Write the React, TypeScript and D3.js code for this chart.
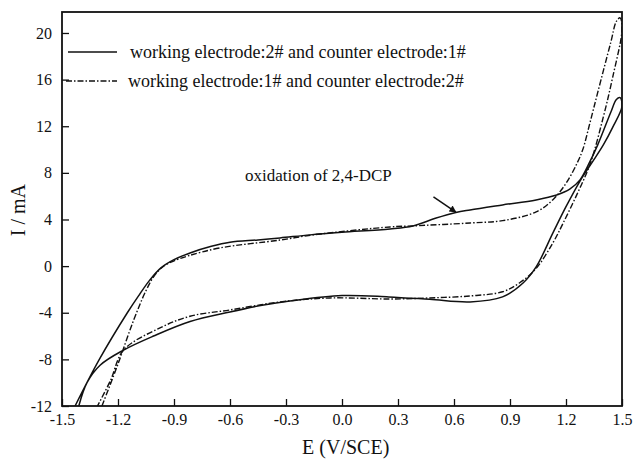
import * as d3 from "d3";
import { useEffect, useRef } from "react";

// E (V/SCE), I (mA); each loop = forward scan then reverse scan
const solidE = [
  -1.43, -1.3, -1.15, -1.09, -1.03, -0.97, -0.9, -0.814, -0.7, -0.6, -0.45, -0.332, -0.171, 0.0, 0.257, 0.38, 0.5, 0.61, 0.686, 0.86, 1.04, 1.15, 1.22, 1.275, 1.32, 1.37, 1.44, 1.47, 1.49,
  1.5, 1.45, 1.4, 1.34, 1.275, 1.2, 1.13, 1.04, 0.97, 0.86, 0.686, 0.47, 0.25, 0.0, -0.28, -0.42, -0.6, -0.814, -1.01, -1.17, -1.296, -1.366, -1.41,
];
const solidI = [
  -12, -8, -4, -2.55, -1.2, -0.15, 0.55, 1.13, 1.7, 2.05, 2.25, 2.42, 2.68, 2.9, 3.19, 3.45, 4.1, 4.6, 4.82, 5.25, 5.68, 6.1, 6.6, 7.4, 8.7, 10.4, 13.2, 14.3, 14.45,
  13.7, 11.9, 10.4, 8.9, 7.3, 5.1, 2.85, -0.07, -1.45, -2.64, -3.07, -2.85, -2.64, -2.52, -2.99, -3.33, -3.93, -4.75, -6.0, -7.2, -8.5, -10.0, -12,
];

const dashE = [
  -1.286, -1.2, -1.12, -1.05, -1.0, -0.95, -0.9, -0.82, -0.654, -0.33, -0.155, 0.257, 0.38, 0.686, 0.86, 1.04, 1.13, 1.2, 1.26, 1.29, 1.33, 1.37, 1.44, 1.47, 1.49,
  1.5, 1.45, 1.4, 1.33, 1.26, 1.185, 1.13, 1.04, 0.95, 0.86, 0.686, 0.47, 0.257, -0.064, -0.33, -0.6, -0.814, -0.975, -1.17, -1.24, -1.31,
];
const dashI = [
  -12, -8.4, -4.8, -2.1, -0.7, 0.05, 0.45, 0.9, 1.56, 2.24, 2.68, 3.36, 3.45, 3.7, 3.9, 4.65, 5.7, 7.1, 8.85, 10.0, 12.4, 14.9, 19.2, 21.0, 21.3,
  20.3, 16.2, 12.8, 8.8, 6.2, 3.7, 2.0, -0.2, -1.45, -2.2, -2.56, -2.73, -2.82, -2.73, -3.07, -3.76, -4.3, -5.3, -7.2, -9.8, -12,
];

const xTicks = [-1.5, -1.2, -0.9, -0.6, -0.3, 0.0, 0.3, 0.6, 0.9, 1.2, 1.5];
const yTicks = [-12, -8, -4, 0, 4, 8, 12, 16, 20];

const seriesNames = [
  "working electrode:2# and counter electrode:1#",
  "working electrode:1# and counter electrode:2#",
];

const W = 634;
const H = 459;
const FONT = "'Liberation Serif', 'Times New Roman', serif";

export default function App() {
  const ref = useRef<SVGSVGElement>(null);

  useEffect(() => {
    document.body.style.margin = "0";
    const svg = d3.select(ref.current);
    svg.selectAll("*").remove();

    const margin = { top: 12, right: 12, bottom: 53, left: 62 };
    const width = W - margin.left - margin.right;
    const height = H - margin.top - margin.bottom;

    const x = d3.scaleLinear().domain([-1.5, 1.5]).range([0, width]);
    const y = d3.scaleLinear().domain([-12, 21.8]).range([height, 0]);

    const g = svg
      .append("g")
      .attr("transform", `translate(${margin.left},${margin.top})`);

    const defs = svg.append("defs");
    defs
      .append("clipPath")
      .attr("id", "plot-clip")
      .append("rect")
      .attr("width", width)
      .attr("height", height);

    // axes with inward ticks, plain hyphen minus like the original
    const xAxis = g
      .append("g")
      .attr("transform", `translate(0,${height})`)
      .call(
        d3
          .axisBottom(x)
          .tickValues(xTicks)
          .tickSizeInner(-7)
          .tickSizeOuter(0)
          .tickPadding(8)
          .tickFormat((d) => (d as number).toFixed(1))
      );
    const yAxis = g.append("g").call(
      d3
        .axisLeft(y)
        .tickValues(yTicks)
        .tickSizeInner(-7)
        .tickSizeOuter(0)
        .tickPadding(10)
        .tickFormat((d) => String(d))
    );
    for (const a of [xAxis, yAxis]) {
      a.select(".domain").remove();
      a.selectAll("line").attr("stroke", "#111").attr("stroke-width", 1.3);
      a.selectAll("text")
        .attr("fill", "#111")
        .style("font-family", FONT)
        .style("font-size", "16px");
    }

    // frame
    g.append("rect")
      .attr("width", width)
      .attr("height", height)
      .attr("fill", "none")
      .attr("stroke", "#111")
      .attr("stroke-width", 1.8);

    const line = d3
      .line<[number, number]>()
      .x((d) => x(d[0]))
      .y((d) => y(d[1]))
      .curve(d3.curveCatmullRom.alpha(0.5));

    const plot = g.append("g").attr("clip-path", "url(#plot-clip)");

    plot
      .append("path")
      .datum(solidE.map((e, i) => [e, solidI[i]] as [number, number]))
      .attr("fill", "none")
      .attr("stroke", "#111")
      .attr("stroke-width", 1.5)
      .attr("d", line);

    plot
      .append("path")
      .datum(dashE.map((e, i) => [e, dashI[i]] as [number, number]))
      .attr("fill", "none")
      .attr("stroke", "#111")
      .attr("stroke-width", 1.4)
      .attr("stroke-dasharray", "6 2 1.5 2")
      .attr("d", line);

    // legend
    const legend = [
      { y: 40, x0: 6, x1: 55, dash: null, tx: 68 },
      { y: 69, x0: 4, x1: 55, dash: "6 2 1.5 2", tx: 66 },
    ];
    legend.forEach((l, i) => {
      g.append("line")
        .attr("x1", l.x0)
        .attr("x2", l.x1)
        .attr("y1", l.y)
        .attr("y2", l.y)
        .attr("stroke", "#111")
        .attr("stroke-width", 1.5)
        .attr("stroke-dasharray", l.dash);
      g.append("text")
        .attr("x", l.tx)
        .attr("y", l.y + 6)
        .attr("fill", "#111")
        .style("font-family", FONT)
        .style("font-size", "18px")
        .text(seriesNames[i]);
    });

    // annotation
    g.append("text")
      .attr("x", x(-0.52))
      .attr("y", 169)
      .attr("fill", "#111")
      .style("font-family", FONT)
      .style("font-size", "17px")
      .text("oxidation of 2,4-DCP");

    defs
      .append("marker")
      .attr("id", "arrow")
      .attr("viewBox", "0 0 10 10")
      .attr("refX", 9)
      .attr("refY", 5)
      .attr("markerWidth", 10)
      .attr("markerHeight", 7)
      .attr("markerUnits", "userSpaceOnUse")
      .attr("orient", "auto")
      .append("path")
      .attr("d", "M0,0L10,5L0,10z")
      .attr("fill", "#111");

    g.append("line")
      .attr("x1", x(0.49))
      .attr("y1", y(5.93))
      .attr("x2", x(0.61))
      .attr("y2", y(4.64))
      .attr("stroke", "#111")
      .attr("stroke-width", 1.5)
      .attr("marker-end", "url(#arrow)");

    // axis titles
    svg
      .append("text")
      .attr("x", margin.left + x(0.02))
      .attr("y", 454)
      .attr("text-anchor", "middle")
      .attr("fill", "#111")
      .style("font-family", FONT)
      .style("font-size", "20px")
      .text("E (V/SCE)");

    svg
      .append("text")
      .attr("transform", `translate(25,${margin.top + y(4.8)}) rotate(-90)`)
      .attr("text-anchor", "middle")
      .attr("fill", "#111")
      .style("font-family", FONT)
      .style("font-size", "20px")
      .text("I / mA");
  }, []);

  return (
    <svg
      ref={ref}
      width={W}
      height={H}
      style={{ display: "block", background: "#fff" }}
    />
  );
}
